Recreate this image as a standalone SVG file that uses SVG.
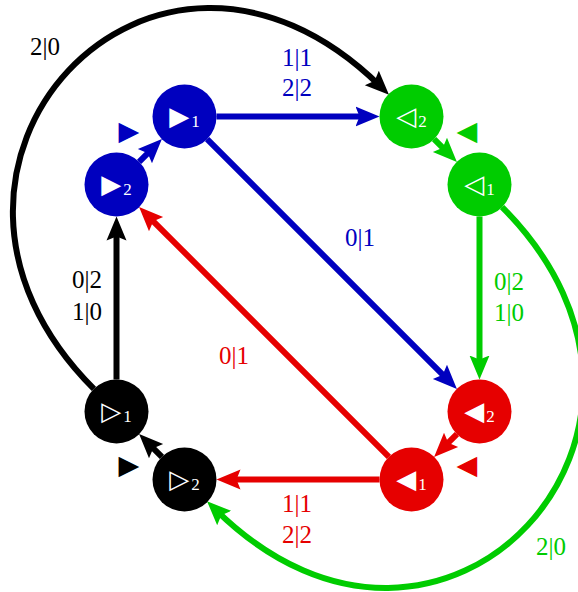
<svg xmlns="http://www.w3.org/2000/svg" width="578" height="592" viewBox="0 0 578 592">
<style>
.e{fill:none;stroke-width:6;stroke-linecap:butt}
.cb{stroke:#0000BF}.cg{stroke:#00CC00}.cr{stroke:#E60000}.ck{stroke:#000}
.lab{font-family:"Liberation Serif","Times New Roman","DejaVu Serif",serif;font-size:25px;text-anchor:middle}
.tb{fill:#0000BF}.tg{fill:#00CC00}.tr{fill:#E60000}.tk{fill:#000}
.nl{fill:#fff;text-anchor:middle}
.tri{font-family:"DejaVu Sans",sans-serif;font-size:26px}
.sub{font-family:"Liberation Serif","Times New Roman","DejaVu Serif",serif;font-size:17px}
.mk{font-family:"DejaVu Sans",sans-serif;font-size:27px;text-anchor:middle}
</style>
<defs>
<marker id="ab" markerUnits="userSpaceOnUse" markerWidth="26" markerHeight="22" viewBox="0 -11 26 22" refX="11" refY="0" orient="auto"><path d="M0,-10 L24,0 L0,10 L4,0 z" fill="#0000BF"/></marker>
<marker id="ag" markerUnits="userSpaceOnUse" markerWidth="26" markerHeight="22" viewBox="0 -11 26 22" refX="11" refY="0" orient="auto"><path d="M0,-10 L24,0 L0,10 L4,0 z" fill="#00CC00"/></marker>
<marker id="ar" markerUnits="userSpaceOnUse" markerWidth="26" markerHeight="22" viewBox="0 -11 26 22" refX="11" refY="0" orient="auto"><path d="M0,-10 L24,0 L0,10 L4,0 z" fill="#E60000"/></marker>
<marker id="ak" markerUnits="userSpaceOnUse" markerWidth="26" markerHeight="22" viewBox="0 -11 26 22" refX="11" refY="0" orient="auto"><path d="M0,-10 L24,0 L0,10 L4,0 z" fill="#000"/></marker>
</defs>
<g id="connectors">
<path class="e cb" d="M216.5,116.5 L366.5,116.5" marker-end="url(#ab)"/>
<path class="e cb" d="M207.1,139.1 L447.7,379.7" marker-end="url(#ab)"/>
<path class="e cb" d="M139.1,161.9 L152.7,148.3" marker-end="url(#ab)"/>
<path class="e cg" d="M434.1,139.1 L447.7,152.7" marker-end="url(#ag)"/>
<path class="e cg" d="M479.5,216.5 L479.5,366.5" marker-end="url(#ag)"/>
<path class="e cr" d="M456.9,434.1 L443.3,447.7" marker-end="url(#ar)"/>
<path class="e cr" d="M379.5,479.5 L229.5,479.5" marker-end="url(#ar)"/>
<path class="e cr" d="M388.9,456.9 L148.3,216.3" marker-end="url(#ar)"/>
<path class="e ck" d="M161.9,456.9 L148.3,443.3" marker-end="url(#ak)"/>
<path class="e ck" d="M116.5,379.5 L116.5,229.5" marker-end="url(#ak)"/>
<path class="e ck" d="M93.9,388.9 C-128.1,166.9 152.4,-136.6 379.7,85.7" marker-end="url(#ak)"/>
<path class="e cg" d="M502.1,207.1 C724.1,429.1 443.6,732.6 216.3,510.3" marker-end="url(#ag)"/>
<text class="lab tb" x="297" y="66">1|1</text>
<text class="lab tb" x="297" y="96">2|2</text>
<text class="lab tb" x="360" y="246">0|1</text>
<text class="lab tr" x="234" y="364">0|1</text>
<text class="lab tk" x="87" y="288">0|2</text>
<text class="lab tk" x="87" y="320">1|0</text>
<text class="lab tg" x="509" y="290">0|2</text>
<text class="lab tg" x="509" y="321">1|0</text>
<text class="lab tr" x="297" y="512">1|1</text>
<text class="lab tr" x="297" y="543">2|2</text>
<text class="lab tk" x="45" y="55">2|0</text>
<text class="lab tg" x="551" y="555">2|0</text>
</g>
<g id="node-b1"><circle cx="184.5" cy="116.5" r="32" fill="#0000BF"/><text class="nl" x="184.5" y="125"><tspan class="tri">▶</tspan><tspan class="sub" dx="2" dy="2">1</tspan></text></g>
<g id="node-b2"><circle cx="116.5" cy="184.5" r="32" fill="#0000BF"/><text class="nl" x="116.5" y="193"><tspan class="tri">▶</tspan><tspan class="sub" dx="2" dy="2">2</tspan></text></g>
<g id="node-g2"><circle cx="411.5" cy="116.5" r="32" fill="#00CC00"/><text class="nl" x="411.5" y="125"><tspan class="tri">◁</tspan><tspan class="sub" dx="2" dy="2">2</tspan></text></g>
<g id="node-g1"><circle cx="479.5" cy="184.5" r="32" fill="#00CC00"/><text class="nl" x="479.5" y="193"><tspan class="tri">◁</tspan><tspan class="sub" dx="2" dy="2">1</tspan></text></g>
<g id="node-r2"><circle cx="479.5" cy="411.5" r="32" fill="#E60000"/><text class="nl" x="479.5" y="420"><tspan class="tri">◀</tspan><tspan class="sub" dx="2" dy="2">2</tspan></text></g>
<g id="node-r1"><circle cx="411.5" cy="479.5" r="32" fill="#E60000"/><text class="nl" x="411.5" y="488"><tspan class="tri">◀</tspan><tspan class="sub" dx="2" dy="2">1</tspan></text></g>
<g id="node-k1"><circle cx="116.5" cy="411.5" r="32" fill="#000"/><text class="nl" x="116.5" y="420"><tspan class="tri">▷</tspan><tspan class="sub" dx="2" dy="2">1</tspan></text></g>
<g id="node-k2"><circle cx="184.5" cy="479.5" r="32" fill="#000"/><text class="nl" x="184.5" y="488"><tspan class="tri">▷</tspan><tspan class="sub" dx="2" dy="2">2</tspan></text></g>
<g id="marker-blue"><text class="mk tb" x="129" y="140">▶</text></g>
<g id="marker-green"><text class="mk tg" x="467" y="140">◀</text></g>
<g id="marker-black"><text class="mk tk" x="129" y="474">▶</text></g>
<g id="marker-red"><text class="mk tr" x="467" y="474">◀</text></g>
</svg>
